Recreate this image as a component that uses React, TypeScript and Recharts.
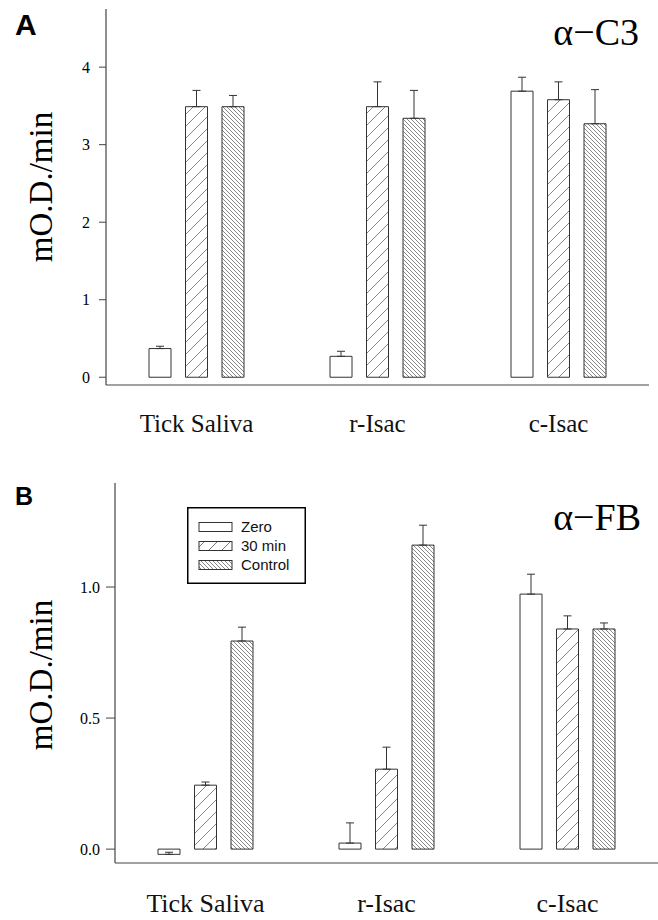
import { BarChart, Bar, XAxis, YAxis, ErrorBar, Legend } from 'recharts';

const categories = ['Tick Saliva', 'r-Isac', 'c-Isac'];

// panel A, alpha-C3
const c3Zero = [0.37, 0.27, 3.69];
const c3ZeroErr = [0.03, 0.065, 0.18];
const c3Min30 = [3.49, 3.49, 3.58];
const c3Min30Err = [0.21, 0.32, 0.23];
const c3Control = [3.49, 3.34, 3.27];
const c3ControlErr = [0.145, 0.36, 0.44];
const c3Ticks = [0, 1, 2, 3, 4];

// panel B, alpha-FB
const fbZero = [-0.02, 0.023, 0.973];
const fbZeroErr = [0.008, 0.077, 0.076];
const fbMin30 = [0.244, 0.305, 0.84];
const fbMin30Err = [0.012, 0.084, 0.05];
const fbControl = [0.794, 1.16, 0.84];
const fbControlErr = [0.053, 0.076, 0.023];
const fbTicks = [0, 0.5, 1.0];

const legendLabels = ['Zero', '30 min', 'Control'];

const SERIF = "'Liberation Serif', 'Times New Roman', serif";
const SANS = "'Liberation Sans', Arial, sans-serif";
const AXIS = '#444';

const rows = (zero: number[], zErr: number[], m30: number[], mErr: number[], ctrl: number[], cErr: number[]) =>
  categories.map((name, i) => ({
    name,
    zero: zero[i],
    zeroErr: [0, zErr[i]],
    min30: m30[i],
    min30Err: [0, mErr[i]],
    control: ctrl[i],
    controlErr: [0, cErr[i]],
  }));

const c3Data = rows(c3Zero, c3ZeroErr, c3Min30, c3Min30Err, c3Control, c3ControlErr);
const fbData = rows(fbZero, fbZeroErr, fbMin30, fbMin30Err, fbControl, fbControlErr);

function bars(id: string) {
  return [
    <Bar key="z" dataKey="zero" fill="#fff" stroke="#333" strokeWidth={1} isAnimationActive={false}>
      <ErrorBar dataKey="zeroErr" width={4} stroke="#333" strokeWidth={1} />
    </Bar>,
    <Bar key="m" dataKey="min30" fill={`url(#fwd-${id})`} stroke="#333" strokeWidth={1} isAnimationActive={false}>
      <ErrorBar dataKey="min30Err" width={4} stroke="#333" strokeWidth={1} />
    </Bar>,
    <Bar key="c" dataKey="control" fill={`url(#back-${id})`} stroke="#333" strokeWidth={1} isAnimationActive={false}>
      <ErrorBar dataKey="controlErr" width={4} stroke="#333" strokeWidth={1} />
    </Bar>,
  ];
}

function defs(id: string) {
  return (
    <defs>
      <pattern id={`fwd-${id}`} patternUnits="userSpaceOnUse" width="12" height="12">
        <rect width="12" height="12" fill="#fff" />
        <path d="M-3,3 L3,-3 M0,12 L12,0 M9,15 L15,9" stroke="#666" strokeWidth="0.8" />
      </pattern>
      <pattern id={`back-${id}`} patternUnits="userSpaceOnUse" width="4" height="4">
        <rect width="4" height="4" fill="#fff" />
        <path d="M-1,-1 L5,5 M-1,3 L1,5 M3,-1 L5,1" stroke="#555" strokeWidth="0.7" />
      </pattern>
    </defs>
  );
}

function YTick(props: any) {
  const { x, y, payload, digits } = props;
  const v = Number(payload.value);
  return (
    <text x={x} y={y} dy={5.5} textAnchor="end" fontSize={16} fontFamily={SERIF} fill="#000">
      {digits ? v.toFixed(digits) : String(v)}
    </text>
  );
}

function LegendBox() {
  const ys = [20, 39, 58];
  return (
    <svg width={119} height={77}>
      <defs>
        <pattern id="lg-fwd" patternUnits="userSpaceOnUse" width="13" height="13">
          <path d="M0,13 L13,0 M-3,3 L3,-3 M10,16 L16,10" stroke="#555" strokeWidth="0.8" />
        </pattern>
        <pattern id="lg-back" patternUnits="userSpaceOnUse" width="4" height="4">
          <path d="M-1,-1 L5,5 M-1,3 L1,5 M3,-1 L5,1" stroke="#555" strokeWidth="0.7" />
        </pattern>
      </defs>
      <rect x={0.75} y={0.75} width={117.5} height={75.5} fill="#fff" stroke="#000" strokeWidth={1.5} />
      {legendLabels.map((label, i) => (
        <g key={label}>
          <rect
            x={12}
            y={ys[i] - 4.5}
            width={33}
            height={9}
            fill={i === 0 ? '#fff' : i === 1 ? 'url(#lg-fwd)' : 'url(#lg-back)'}
            stroke="#333"
            strokeWidth={1}
          />
          <text x={54} y={ys[i] + 5} fontSize={15} fontFamily={SANS} fill="#111">
            {label}
          </text>
        </g>
      ))}
    </svg>
  );
}

export default function App() {
  return (
    <div style={{ position: 'absolute', left: 0, top: 0, width: 658, height: 920, background: '#fff' }}>
      <div style={{ position: 'absolute', left: 0, top: 0 }}>
        <BarChart
          width={658}
          height={440}
          data={c3Data}
          margin={{ top: 9, right: 9, bottom: 0, left: 0 }}
          barSize={22}
          barGap={14.5}
        >
          {defs('a')}
          <XAxis
            dataKey="name"
            height={55}
            tickLine={false}
            tickSize={0}
            tickMargin={29}
            axisLine={{ stroke: AXIS, strokeWidth: 1.2 }}
            tick={{ fill: '#111', fontSize: 25, fontFamily: SERIF }}
          />
          <YAxis
            width={106}
            domain={[-0.1, 4.75]}
            ticks={c3Ticks}
            tickSize={7}
            tickMargin={9}
            axisLine={{ stroke: AXIS, strokeWidth: 1.2 }}
            tickLine={{ stroke: AXIS }}
            tick={<YTick />}
          />
          <YAxis
            yAxisId="r"
            orientation="right"
            width={0}
            domain={[-0.1, 4.75]}
            tick={false}
            tickLine={false}
            axisLine={{ stroke: AXIS, strokeWidth: 1.2 }}
          />
          {bars('a')}
        </BarChart>
      </div>

      <div style={{ position: 'absolute', left: 0, top: 440 }}>
        <BarChart
          width={658}
          height={480}
          data={fbData}
          margin={{ top: 43, right: 0, bottom: 0, left: 0 }}
          barSize={22}
          barGap={14.5}
        >
          {defs('b')}
          <XAxis
            dataKey="name"
            height={57}
            tickLine={false}
            tickSize={0}
            tickMargin={31}
            axisLine={{ stroke: AXIS, strokeWidth: 1.2 }}
            tick={{ fill: '#111', fontSize: 26, fontFamily: SERIF }}
          />
          <XAxis
            xAxisId="t"
            orientation="top"
            height={0}
            tick={false}
            tickLine={false}
            axisLine={{ stroke: AXIS, strokeWidth: 1.2 }}
          />
          <YAxis
            width={115}
            domain={[-0.053, 1.397]}
            ticks={fbTicks}
            tickSize={9}
            tickMargin={6}
            axisLine={{ stroke: AXIS, strokeWidth: 1.2 }}
            tickLine={{ stroke: AXIS }}
            tick={<YTick digits={1} />}
          />
          {bars('b')}
          <Legend
            layout="vertical"
            verticalAlign="middle"
            align="center"
            wrapperStyle={{ left: 187, top: 67, width: 119, height: 77 }}
            content={() => <LegendBox />}
          />
        </BarChart>
      </div>

      <svg width={658} height={920} style={{ position: 'absolute', left: 0, top: 0, pointerEvents: 'none' }}>
        <text x={15} y={35} fontSize={30} fontWeight="bold" fontFamily={SANS} fill="#000">A</text>
        <text x={15} y={505} fontSize={25} fontWeight="bold" fontFamily={SANS} fill="#000">B</text>
        <text x={639} y={45} fontSize={38} fontFamily={SERIF} textAnchor="end" fill="#000">α−C3</text>
        <text x={641} y={530} fontSize={38} fontFamily={SERIF} textAnchor="end" fill="#000">α−FB</text>
        <text
          x={41}
          y={187}
          fontSize={33}
          fontFamily={SERIF}
          textAnchor="middle"
          dominantBaseline="central"
          transform="rotate(-90 41 187)"
          fill="#000"
        >
          mO.D./min
        </text>
        <text
          x={41}
          y={675}
          fontSize={33}
          fontFamily={SERIF}
          textAnchor="middle"
          dominantBaseline="central"
          transform="rotate(-90 41 675)"
          fill="#000"
        >
          mO.D./min
        </text>
      </svg>
    </div>
  );
}
